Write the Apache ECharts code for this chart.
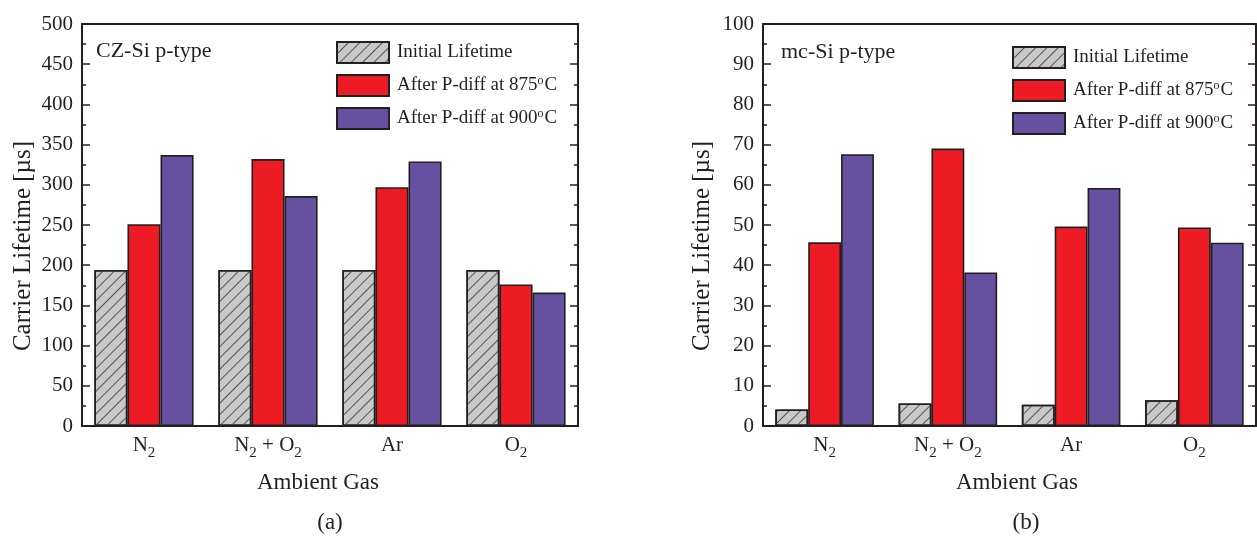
<!DOCTYPE html>
<html>
<head>
<meta charset="utf-8">
<script src="https://cdn.jsdelivr.net/npm/echarts@6/dist/echarts.min.js"></script>
<style>html,body{margin:0;padding:0;background:#fff}#c{width:1257px;height:536px}</style>
</head>
<body>
<div id="c"></div>
<script>
const categories = ['N2', 'N2 + O2', 'Ar', 'O2'];
const seriesNames = ['Initial Lifetime', 'After P-diff at 875ºC', 'After P-diff at 900ºC'];
const czInitial = [194, 194, 194, 194];
const czP875 = [251, 332, 297, 176];
const czP900 = [337, 286, 329, 166];
const mcInitial = [4.1, 5.6, 5.3, 6.4];
const mcP875 = [45.7, 69.0, 49.6, 49.4];
const mcP900 = [67.6, 38.2, 59.2, 45.6];
const czAxis = { min: 0, max: 500, interval: 50 };
const mcAxis = { min: 0, max: 100, interval: 10 };
const yTitle = 'Carrier Lifetime [µs]';
const xTitle = 'Ambient Gas';

const FONT = 'Liberation Serif';
const INK = '#231F20';
const colors = ['#C8C8C8', '#ED1C24', '#6551A0'];
const hatch = { symbol: 'rect', symbolSize: 1, color: '#555555', dashArrayX: [1, 0], dashArrayY: [1, 6.2], rotation: -Math.PI / 4 };

const grids = [
  { left: 82, top: 24, width: 496, height: 402 },
  { left: 763, top: 24, width: 493, height: 402 }
];

const xAxes = [], yAxes = [], series = [], legends = [];
const richLabel = {
  t: { fontSize: 21, fontFamily: FONT, color: INK, lineHeight: 30 },
  sub: { fontSize: 15, fontFamily: FONT, color: INK, lineHeight: 14, padding: [16, 0, 0, 0] }
};
function catFmt(v) {
  return v.split(/(\d)/).filter(s => s.length).map(s => /\d/.test(s) ? '{sub|' + s + '}' : '{t|' + s + '}').join('');
}
function legendFmt(n) {
  const m = n.split('º');
  if (m.length === 1) return '{t|' + n + '}';
  return '{t|' + m[0] + '}{sup|o}{t|' + m[1] + '}';
}

function addPanel(g, ax, data, legendPos) {
  const base = xAxes.length;
  const line = { lineStyle: { color: INK, width: 2 } };
  const tick = (len, align) => ({ inside: true, interval: 0, alignWithLabel: align, length: len, lineStyle: { color: INK, width: 1.5 } });
  xAxes.push({ type: 'category', gridIndex: g, data: categories, position: 'bottom', z: 10,
    axisLine: line, axisTick: tick(7, true),
    axisLabel: { interval: 0, margin: 4, formatter: catFmt, rich: richLabel }, splitLine: { show: false } });
  xAxes.push({ type: 'category', gridIndex: g, data: categories, position: 'bottom', z: 10,
    axisLine: { show: false }, axisTick: tick(3, false),
    axisLabel: { show: false }, splitLine: { show: false } });
  xAxes.push({ type: 'category', gridIndex: g, data: categories, position: 'top', z: 10,
    axisLine: line, axisTick: tick(8, true),
    axisLabel: { show: false }, splitLine: { show: false } });
  xAxes.push({ type: 'category', gridIndex: g, data: categories, position: 'top', z: 10,
    axisLine: { show: false }, axisTick: tick(5, false),
    axisLabel: { show: false }, splitLine: { show: false } });
  const ybase = yAxes.length;
  ['left', 'right'].forEach((p, i) => {
    yAxes.push({ type: 'value', gridIndex: g, position: p, min: ax.min, max: ax.max, interval: ax.interval, z: 10,
      axisLine: { show: true, lineStyle: { color: INK, width: 2 } },
      axisTick: { show: true, inside: true, length: 8, lineStyle: { color: INK, width: 1.5 } },
      minorTick: { show: true, splitNumber: 2, length: 4, lineStyle: { color: INK, width: 1.5 } },
      splitLine: { show: false },
      axisLabel: { show: i === 0, margin: 9, fontSize: 21, fontFamily: FONT, color: INK } });
  });
  data.forEach((d, k) => {
    series.push({ type: 'bar', name: seriesNames[k], xAxisIndex: base, yAxisIndex: ybase, data: d,
      barGap: '0%', barCategoryGap: '20%',
      itemStyle: Object.assign({ color: colors[k], borderColor: INK, borderWidth: 1.6 }, k === 0 ? { decal: hatch } : {}) });
  });
  legends.push({ orient: 'vertical', left: legendPos[0], top: legendPos[1], padding: 0, itemWidth: 52, itemHeight: 21, itemGap: 10,
    icon: 'rect', selectedMode: false, data: seriesNames, formatter: legendFmt,
    textStyle: { padding: [0, 0, 0, 3], rich: {
      t: { fontSize: 19, fontFamily: FONT, color: INK },
      sup: { fontSize: 12, fontFamily: FONT, color: INK, padding: [0, 1, 9, 0] } } } });
}

addPanel(0, czAxis, [czInitial, czP875, czP900], [336, 41]);
addPanel(1, mcAxis, [mcInitial, mcP875, mcP900], [1012, 46]);

function txt(x, y, s, size, align, rot) {
  return { type: 'text', x: x, y: y, rotation: rot || 0, z: 20,
    style: { text: s, fontSize: size, fontFamily: FONT, fill: INK, align: align || 'center', verticalAlign: 'middle' } };
}

const option = {
  animation: false,
  backgroundColor: '#fff',
  grid: grids,
  xAxis: xAxes,
  yAxis: yAxes,
  series: series,
  legend: legends,
  graphic: [
    txt(23, 246, yTitle, 25, 'center', Math.PI / 2),
    txt(702, 246, yTitle, 25, 'center', Math.PI / 2),
    txt(318, 483, xTitle, 23),
    txt(1017, 483, xTitle, 23),
    txt(330, 523, '(a)', 23),
    txt(1026, 523, '(b)', 23),
    txt(96, 51, 'CZ-Si p-type', 22, 'left'),
    txt(781, 52, 'mc-Si p-type', 22, 'left')
  ]
};
const chart = echarts.init(document.getElementById('c'), null, { renderer: 'canvas' });
chart.setOption(option);
</script>
</body>
</html>
